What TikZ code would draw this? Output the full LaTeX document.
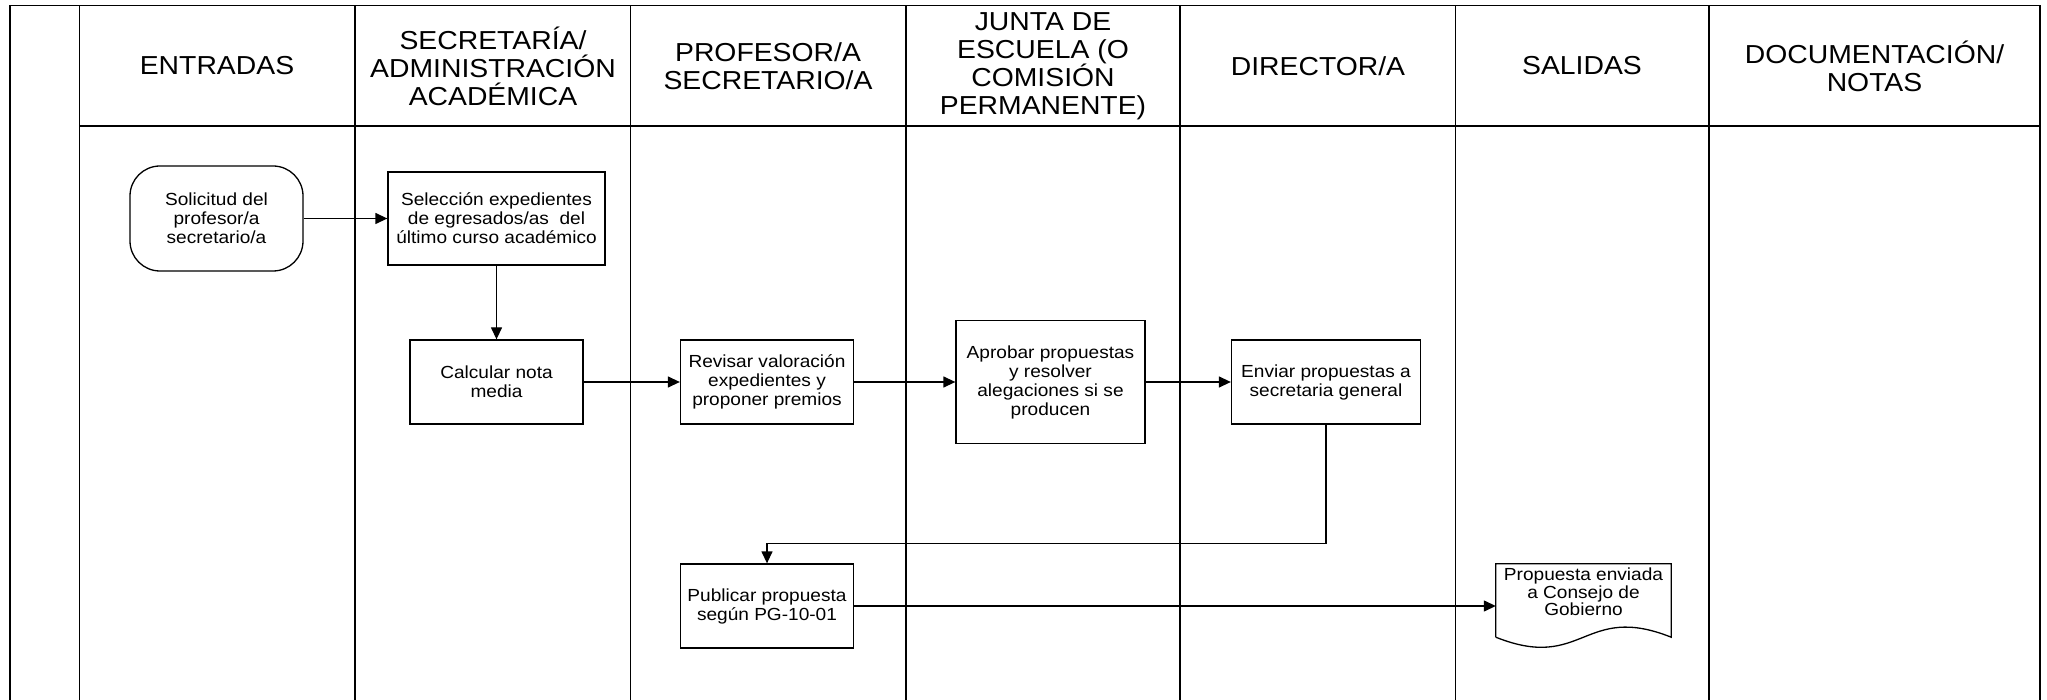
\documentclass[tikz,border=0pt]{standalone}
\usepackage{fontspec}
\setmainfont{Liberation Sans}[FakeStretch=1.09]
\usetikzlibrary{arrows.meta,calc}
\tikzset{
  lane/.style ={line width=1.8pt},
  hdr/.style  ={align=center, font=\fontsize{26}{28}\selectfont, inner sep=0pt},
  proc/.style ={rectangle, draw, line width=1.3pt, align=center,
                font=\fontsize{17.5}{19}\selectfont, inner sep=0pt},
  term/.style ={proc, rounded corners=30pt},
  docu/.style ={align=center, font=\fontsize{17.5}{17.5}\selectfont, inner sep=0pt,
                minimum width=175pt, minimum height=56pt},
  flow/.style ={-{Triangle[length=12pt,width=11pt]}, line width=1.3pt},
}
\begin{document}
\begin{tikzpicture}[x=1pt,y=-1pt]
\useasboundingbox (0,0) rectangle (2047,700);
% swimlanes
\draw[lane] (10,700) -- (10,5.5) -- (2040,5.5) -- (2040,700);
\draw[lane] (79.5,126) -- (2040,126);
\foreach \x in {79.5,355,630.5,906,1180,1455.5,1709} \draw[lane] (\x,5.5) -- (\x,700);

% lane headers
\node[hdr] (hent) at (217,66) {ENTRADAS};
\node[hdr] (hsec) at (493,66) {SECRETARÍA/\\ADMINISTRACIÓN\\ACADÉMICA};
\node[hdr] (hpro) at (768,66) {PROFESOR/A\\SECRETARIO/A};
\node[hdr] (hjun) at (1043,66) {JUNTA DE\\ESCUELA (O\\COMISIÓN\\PERMANENTE)};
\node[hdr] (hdir) at (1318,66) {DIRECTOR/A};
\node[hdr] (hsal) at (1582,66) {SALIDAS};
\node[hdr] (hdoc) at (1874.5,66) {DOCUMENTACIÓN/\\NOTAS};

% process steps
\node[term, minimum width=173pt, minimum height=105pt] (sol) at (216.5,218.5) {Solicitud del\\profesor/a\\secretario/a};
\node[proc, minimum width=217pt, minimum height=93pt] (sel) at (496.5,218.5) {Selección expedientes\\de egresados/as~ del\\último curso académico};
\node[proc, minimum width=173pt, minimum height=84pt] (cal) at (496.5,382) {Calcular nota\\media};
\node[proc, minimum width=173pt, minimum height=84pt] (rev) at (767,382) {Revisar valoración\\expedientes y\\proponer premios};
\node[proc, minimum width=189pt, minimum height=123pt] (apr) at (1050.5,382) {Aprobar propuestas\\y resolver\\alegaciones si se\\producen};
\node[proc, minimum width=189pt, minimum height=84pt] (env) at (1326,382) {Enviar propuestas a\\secretaria general};
\node[proc, minimum width=173pt, minimum height=84pt] (pub) at (767,606) {Publicar propuesta\\según PG-10-01};

% output document
\node[docu] (doc) at (1583.5,592) {Propuesta enviada\\a Consejo de\\Gobierno};
\draw[line width=1.3pt] ($(doc.south west)+(0,17)$) -- (doc.north west) -- (doc.north east) -- ($(doc.south east)+(0,17)$)
  .. controls ($(doc.south)+(0,-18)$) and ($(doc.south)+(0,52)$) .. ($(doc.south west)+(0,17)$);

\foreach \a/\b in {sol/sel,sel/cal,cal/rev,rev/apr,apr/env} \draw[flow] (\a) -- (\b);
\draw[flow] (env.south) -- ++(0,119) -| (pub.north);
\draw[flow] (pub) -- (pub -| doc.west);
\end{tikzpicture}
\end{document}
